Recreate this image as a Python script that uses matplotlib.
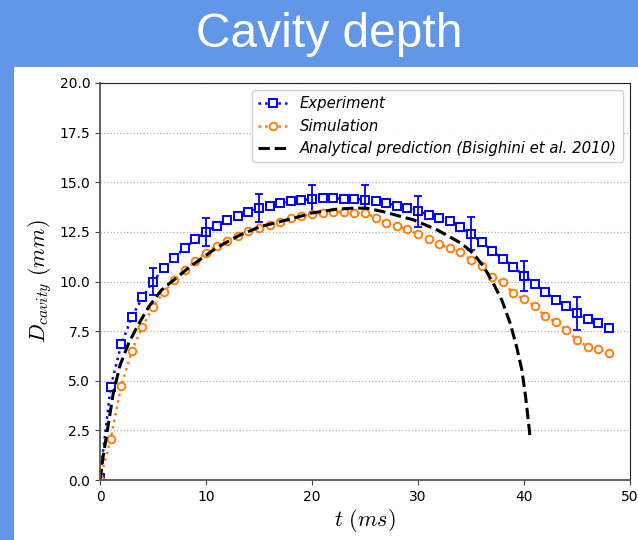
#!/usr/bin/env python3
"""Cavity depth vs time: experiment, simulation and analytical prediction."""

import matplotlib

matplotlib.use("Agg")
import matplotlib.pyplot as plt  # noqa: E402
from matplotlib.patches import Rectangle  # noqa: E402

# --- data ---
t_exp = list(range(0, 49))
d_exp = [0.1, 4.68, 6.83, 8.2, 9.2, 10.0, 10.66, 11.2, 11.7, 12.12,
         12.5, 12.81, 13.1, 13.3, 13.5, 13.7, 13.82, 13.93, 14.04, 14.1,
         14.15, 14.19, 14.19, 14.17, 14.15, 14.13, 14.05, 13.97, 13.8, 13.68,
         13.55, 13.37, 13.21, 13.03, 12.75, 12.41, 11.97, 11.55, 11.13, 10.75,
         10.28, 9.89, 9.47, 9.08, 8.75, 8.4, 8.13, 7.89, 7.64]

t_err = [5, 10, 15, 20, 25, 30, 35, 40, 45]
d_err = [0.67, 0.7, 0.69, 0.73, 0.73, 0.78, 0.84, 0.77, 0.82]

t_sim = list(range(0, 49))
d_sim = [0.0, 2.05, 4.73, 6.5, 7.72, 8.72, 9.45, 10.08, 10.58, 11.03,
         11.45, 11.8, 12.06, 12.31, 12.54, 12.68, 12.86, 13.01, 13.2, 13.3,
         13.4, 13.47, 13.5, 13.5, 13.43, 13.47, 13.21, 12.96, 12.81, 12.63,
         12.39, 12.14, 11.89, 11.67, 11.47, 11.08, 10.8, 10.21, 9.95, 9.42,
         9.1, 8.78, 8.26, 7.96, 7.56, 7.05, 6.72, 6.6, 6.41]

t_ana = [0, 0.3, 0.65, 1.25, 1.9, 2.7, 3.5, 4.6, 5.8, 8.5, 11, 13.2, 15.1,
         18.2, 20, 22.3, 24, 25.2, 26.7, 29.6, 31.8, 34.1, 35.2, 36.2, 37.1,
         37.9, 38.7, 39.3, 39.8, 40.15, 40.4, 40.6]
d_ana = [0, 1.2, 2.35, 4.37, 5.8, 6.89, 7.72, 8.73, 9.57, 10.75, 11.7, 12.34,
         12.76, 13.18, 13.45, 13.64, 13.7, 13.69, 13.52, 13.1, 12.6, 11.92,
         11.42, 10.75, 9.91, 9.07, 7.89, 6.72, 5.54, 4.2, 3.02, 2.02]

x_ticks = [0, 10, 20, 30, 40, 50]
y_ticks = [0.0, 2.5, 5.0, 7.5, 10.0, 12.5, 15.0, 17.5, 20.0]

BLUE_BG = "#6197e6"

plt.rcParams["mathtext.fontset"] = "cm"

fig = plt.figure(figsize=(6.38, 5.4), dpi=100)
fig.patch.set_facecolor(BLUE_BG)
fig.patches.append(Rectangle((14 / 638, 0), 1, 1 - 67 / 540, transform=fig.transFigure,
                             facecolor="white", edgecolor="none", zorder=-1))
fig.text(0.516, 1 - 47 / 540, "Cavity depth", color="white", fontsize=34.5,
         family="Liberation Sans", ha="center", va="baseline")

ax = fig.add_axes([100 / 638, 60 / 540, 530 / 638, 397 / 540])
ax.set_zorder(2)
ax.plot(t_exp, d_exp, ls=":", color="b", marker="s", mfc="white", mec="b",
        ms=5.5, mew=1.4, lw=1.8, label="Experiment")
ax.errorbar(t_err, [d_exp[t_exp.index(t)] for t in t_err], yerr=d_err, fmt="none",
            ecolor="b", elinewidth=1.3, capsize=3, capthick=1.3)
ax.plot(t_sim, d_sim, ls=":", color="#ff7f0e", marker="o", mfc="white", mec="#ff7f0e",
        ms=5.5, mew=1.4, lw=1.8, label="Simulation")
ax.plot(t_ana, d_ana, ls="--", color="black", lw=2.2,
        label="Analytical prediction (Bisighini et al. 2010)")

ax.set_xlim(0, 50)
ax.set_ylim(0, 20)
ax.set_xticks(x_ticks)
ax.set_yticks(y_ticks)
ax.tick_params(labelsize=10, color="#444444")
ax.yaxis.grid(True, ls=":", color="#b0b0b0", lw=0.9)
ax.set_axisbelow(True)
for side in ("left", "bottom"):
    ax.spines[side].set_color("#555555")
    ax.spines[side].set_linewidth(1.3)
for side in ("top", "right"):
    ax.spines[side].set_color("#222222")

ax.set_xlabel(r"$t\ (ms)$", fontsize=16, labelpad=2)
ax.set_ylabel(r"$D_{cavity}\ (mm)$", fontsize=16, labelpad=4)
ax.legend(loc="upper right", prop={"style": "italic", "size": 10.7}, framealpha=0.9,
          numpoints=1, handlelength=2.0, borderaxespad=0.5)

fig.savefig("out.png", dpi=100, facecolor=fig.get_facecolor())
plt.close(fig)
